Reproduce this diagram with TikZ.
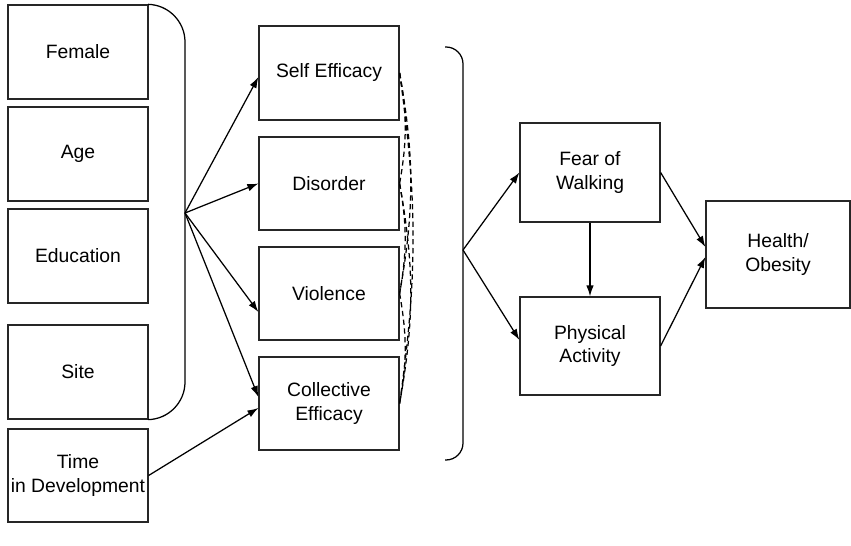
\documentclass[tikz,border=0pt]{standalone}
\usepackage{fontspec}
\setmainfont{Liberation Sans}
\usetikzlibrary{arrows.meta}
\begin{document}
\begin{tikzpicture}[x=0.02cm, y=-0.02cm]

	%DEFINITIONS
	\tikzstyle{every node}=[font=\fontsize{11}{13.6}\selectfont]
	\tikzstyle{block} = [draw=black!85, align=center, line width=0.25mm, inner sep=0pt, minimum width=2.8cm, minimum height=1.88cm]
	\tikzstyle{flow} = [->, line width=0.25mm, >={Latex[length=2.2mm, width=1.5mm]}]
	\tikzstyle{brace} = [line width=0.25mm, rounded corners=0.74cm]
	\tikzstyle{corr} = [densely dashed, line width=0.25mm, bend left=10]

	\useasboundingbox (0,0) rectangle (851,546);

	%BLOCKS
	\draw(78,52) node[block](fem){Female};
	\draw(78,154) node[block](age){Age};
	\draw(78,256) node[block](edu){Education};
	\draw(78,372) node[block](site){Site};
	\draw(78,475.5) node[block, minimum height=1.86cm](time){Time\\in Development};

	\draw(329,73) node[block](self){Self Efficacy};
	\draw(329,183.5) node[block, minimum height=1.86cm](dis){Disorder};
	\draw(329,293.5) node[block, minimum height=1.86cm](vio){Violence};
	\draw(329,403.5) node[block, minimum height=1.86cm](col){Collective\\Efficacy};

	\draw(590,172.5) node[block, minimum height=1.98cm](fear){Fear of\\Walking};
	\draw(590,346) node[block, minimum height=1.96cm](act){Physical\\Activity};
	\draw(778,254.5) node[block, minimum width=2.88cm, minimum height=2.14cm](hea){Health/\\Obesity};

	%BRACES
	\draw[brace] (fem.north east) -- (185,5) -- (185,419) -- (site.south east);
	\coordinate (j1) at (185,213);
	\draw[brace, rounded corners=0.34cm] (445,47) -- (463,47) -- (463,460) -- (445,460);
	\coordinate (j2) at (463,250);

	%ARROWS
	\draw[flow] (j1) -- ([yshift=-0.08cm]self.west);
	\draw[flow] (j1) -- (dis.west);
	\draw[flow] (j1) -- ([yshift=-0.37cm]vio.west);
	\draw[flow] (j1) -- ([yshift=0.13cm]col.west);
	\draw[flow] (time.east) -- ([yshift=-0.09cm]col.west);

	\draw[flow] (j2) -- (fear.west);
	\draw[flow] (j2) -- ([yshift=0.12cm]act.west);
	\draw[flow] (fear.south) -- (act.north);
	\draw[flow] (fear.east) -- ([yshift=0.15cm]hea.west);
	\draw[flow] (act.east) -- ([yshift=-0.05cm]hea.west);

	%CORRELATIONS
	\draw[corr] (self.east) to (dis.east);
	\draw[corr] (self.east) to (vio.east);
	\draw[corr, bend left=8] (self.east) to (col.east);
	\draw[corr] (dis.east) to (vio.east);
	\draw[corr] (dis.east) to (col.east);
	\draw[corr] (vio.east) to (col.east);
\end{tikzpicture}
\end{document}
